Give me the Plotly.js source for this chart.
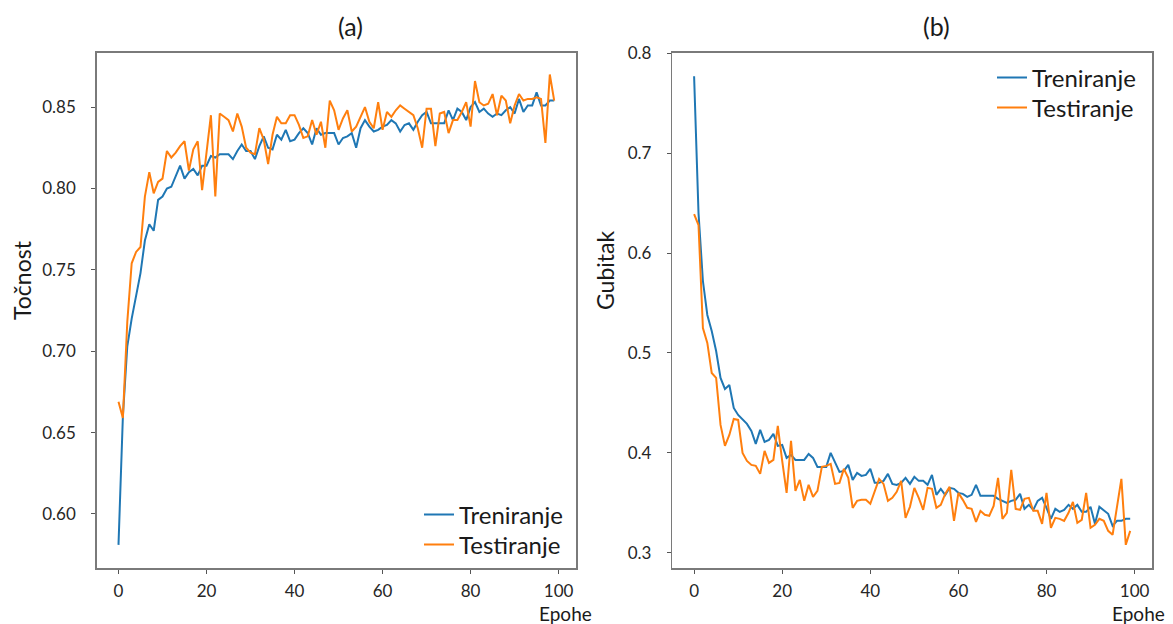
<!DOCTYPE html>
<html>
<head>
<meta charset="utf-8">
<script src="https://cdn.plot.ly/plotly-3.0.1.min.js"></script>
<style>html,body{margin:0;padding:0;background:#fff;}#chart{width:1173px;height:624px;}</style>
</head>
<body>
<div id="chart"></div>
<script>
const epochs = Array.from({length: 100}, (_, i) => i);

const accTrain = [0.581,0.660,0.703,0.720,0.734,0.748,0.768,0.778,0.774,0.793,
0.795,0.800,0.801,0.808,0.814,0.806,0.810,0.812,0.808,0.814,
0.814,0.820,0.819,0.821,0.821,0.821,0.818,0.823,0.827,0.823,
0.823,0.818,0.826,0.832,0.825,0.824,0.833,0.830,0.836,0.829,
0.830,0.834,0.837,0.834,0.827,0.837,0.833,0.834,0.834,0.834,
0.827,0.831,0.832,0.834,0.825,0.837,0.842,0.838,0.835,0.836,
0.838,0.839,0.842,0.840,0.835,0.839,0.840,0.836,0.841,0.845,
0.847,0.840,0.840,0.840,0.840,0.848,0.842,0.849,0.847,0.842,
0.850,0.853,0.847,0.849,0.846,0.844,0.846,0.845,0.848,0.850,
0.846,0.855,0.847,0.851,0.851,0.859,0.851,0.851,0.854,0.854];

const accTest = [0.669,0.659,0.718,0.754,0.761,0.764,0.795,0.810,0.797,0.804,
0.806,0.823,0.819,0.822,0.826,0.829,0.811,0.824,0.829,0.799,
0.822,0.845,0.795,0.846,0.844,0.842,0.835,0.846,0.838,0.825,
0.822,0.821,0.837,0.830,0.815,0.833,0.844,0.840,0.840,0.845,
0.845,0.839,0.831,0.832,0.842,0.833,0.841,0.825,0.854,0.848,
0.836,0.843,0.848,0.835,0.838,0.844,0.850,0.841,0.837,0.853,
0.836,0.847,0.844,0.848,0.851,0.849,0.847,0.845,0.837,0.825,
0.849,0.849,0.826,0.846,0.847,0.834,0.842,0.842,0.847,0.853,
0.838,0.866,0.853,0.851,0.852,0.858,0.845,0.857,0.854,0.840,
0.851,0.858,0.854,0.855,0.855,0.856,0.855,0.828,0.870,0.854];

const lossTrain = [0.777,0.640,0.572,0.538,0.522,0.502,0.475,0.464,0.468,0.445,
0.438,0.433,0.429,0.422,0.409,0.423,0.411,0.413,0.419,0.407,
0.408,0.395,0.398,0.393,0.393,0.393,0.399,0.395,0.386,0.386,
0.386,0.400,0.390,0.381,0.382,0.388,0.373,0.380,0.377,0.378,
0.384,0.370,0.370,0.372,0.379,0.369,0.368,0.370,0.375,0.369,
0.376,0.372,0.372,0.368,0.378,0.358,0.364,0.358,0.365,0.364,
0.360,0.359,0.356,0.358,0.368,0.357,0.357,0.357,0.357,0.354,
0.352,0.350,0.352,0.353,0.359,0.344,0.348,0.343,0.352,0.355,
0.345,0.334,0.344,0.341,0.343,0.348,0.344,0.348,0.341,0.341,
0.346,0.329,0.346,0.342,0.339,0.327,0.332,0.332,0.334,0.334];

const lossTest = [0.639,0.628,0.525,0.510,0.480,0.475,0.428,0.407,0.418,0.434,
0.433,0.400,0.392,0.388,0.387,0.379,0.402,0.390,0.393,0.427,
0.392,0.360,0.412,0.362,0.373,0.352,0.368,0.356,0.362,0.386,
0.387,0.389,0.369,0.370,0.384,0.375,0.345,0.352,0.353,0.353,
0.349,0.361,0.374,0.369,0.352,0.355,0.361,0.372,0.335,0.346,
0.365,0.355,0.343,0.365,0.364,0.345,0.348,0.359,0.366,0.332,
0.360,0.353,0.345,0.344,0.331,0.342,0.338,0.337,0.347,0.375,
0.334,0.340,0.383,0.344,0.343,0.354,0.355,0.342,0.342,0.329,
0.360,0.325,0.335,0.334,0.332,0.340,0.351,0.330,0.333,0.360,
0.325,0.328,0.334,0.332,0.322,0.318,0.346,0.374,0.308,0.322];

const seriesNames = ['Treniranje', 'Testiranje'];
const panelTitles = ['(a)', '(b)'];
const yTitles = ['Točnost', 'Gubitak'];
const xTitle = 'Epohe';
const xTicks = [0, 20, 40, 60, 80, 100];
const accTicks = [0.60, 0.65, 0.70, 0.75, 0.80, 0.85];
const lossTicks = [0.3, 0.4, 0.5, 0.6, 0.7, 0.8];

const BLUE = '#1f77b4', ORANGE = '#ff7f0e';
const FONT = 'Lato, "Open Sans", sans-serif';
const TXT = '#1a1a1a';
const W = 1173, H = 624;

const traces = [
  {x: epochs, y: accTrain, name: seriesNames[0], type: 'scatter', mode: 'lines', line: {color: BLUE, width: 2}, xaxis: 'x', yaxis: 'y', legend: 'legend'},
  {x: epochs, y: accTest, name: seriesNames[1], type: 'scatter', mode: 'lines', line: {color: ORANGE, width: 2}, xaxis: 'x', yaxis: 'y', legend: 'legend2'},
  {x: epochs, y: lossTrain, name: seriesNames[0], type: 'scatter', mode: 'lines', line: {color: BLUE, width: 2}, xaxis: 'x2', yaxis: 'y2', legend: 'legend3'},
  {x: epochs, y: lossTest, name: seriesNames[1], type: 'scatter', mode: 'lines', line: {color: ORANGE, width: 2}, xaxis: 'x2', yaxis: 'y2', legend: 'legend4'}
];

const axisCommon = {
  showline: true, mirror: true, linecolor: '#7a7a7a', linewidth: 1.5,
  ticks: 'outside', ticklen: 4, tickwidth: 1, tickcolor: '#555',
  showgrid: false, zeroline: false,
  tickfont: {family: FONT, size: 17, color: '#262626'}
};

const yTop = 1 - 52.7 / H, yBot = 1 - 568.3 / H;

function ann(text, xpx, ypx, size, angle) {
  return {text: text, x: xpx / W, y: 1 - ypx / H, xref: 'paper', yref: 'paper', showarrow: false,
    xanchor: 'center', yanchor: 'middle', textangle: angle || 0, font: {family: FONT, size: size, color: TXT}};
}
function leg(xpx, ypx) {
  return {x: xpx / W, y: 1 - ypx / H, xanchor: 'left', yanchor: 'middle', bgcolor: 'rgba(0,0,0,0)',
    font: {family: FONT, size: 24, color: TXT}};
}

const layout = {
  width: W, height: H,
  margin: {l: 0, r: 0, t: 0, b: 0},
  paper_bgcolor: '#fff', plot_bgcolor: '#fff',
  font: {family: FONT, color: TXT},
  showlegend: true,
  xaxis: Object.assign({}, axisCommon, {domain: [96.7 / W, 576 / W], range: [-4.95, 103.95], tickvals: xTicks, anchor: 'y', ticklabelstandoff: 3}),
  yaxis: Object.assign({}, axisCommon, {domain: [yBot, yTop], range: [0.5666, 0.8834], tickvals: accTicks, tickformat: '.2f', anchor: 'x', ticklabelstandoff: 12}),
  xaxis2: Object.assign({}, axisCommon, {domain: [672.3 / W, 1152 / W], range: [-4.95, 103.95], tickvals: xTicks, anchor: 'y2', ticklabelstandoff: 3}),
  yaxis2: Object.assign({}, axisCommon, {domain: [yBot, yTop], range: [0.2845, 0.8005], tickvals: lossTicks, tickformat: '.1f', anchor: 'x2', ticklabelstandoff: 12}),
  legend: leg(419, 515),
  legend2: leg(419, 545),
  legend3: leg(992, 78),
  legend4: leg(992, 108),
  annotations: [
    ann(panelTitles[0], 350, 26, 25),
    ann(panelTitles[1], 936, 26, 25),
    ann(yTitles[0], 22, 280, 23, -90),
    ann(yTitles[1], 605, 270, 23, -90),
    ann(xTitle, 565, 613, 19),
    ann(xTitle, 1138, 613, 19)
  ]
};

Plotly.newPlot('chart', traces, layout, {staticPlot: true, displayModeBar: false});
</script>
</body>
</html>
